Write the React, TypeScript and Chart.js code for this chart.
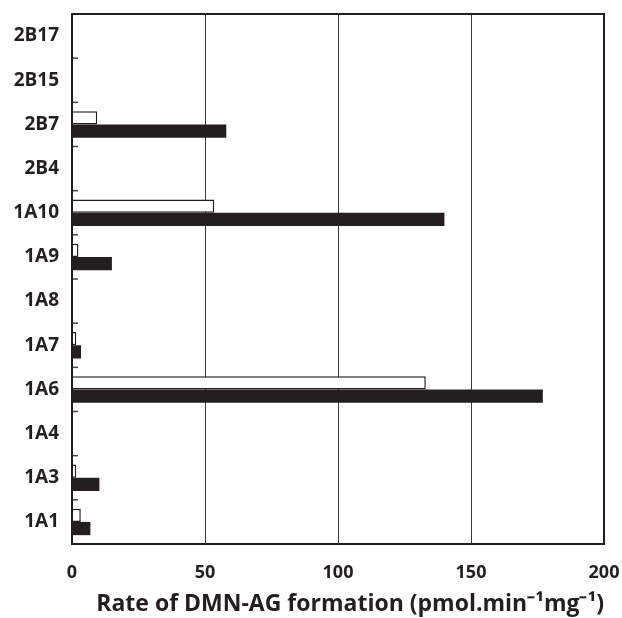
import React, { useEffect, useRef } from "react";
import { Chart, registerables } from "chart.js";

Chart.register(...registerables);

const categories = ["2B17", "2B15", "2B7", "2B4", "1A10", "1A9", "1A8", "1A7", "1A6", "1A4", "1A3", "1A1"];
const openValues = [null, null, 9.5, null, 53.5, 2.4, null, 1.6, 133, null, 1.6, 3.3];
const filledValues = [null, null, 58, null, 140, 15, null, 3.4, 177, null, 10.3, 6.9];
const xTicks = [0, 50, 100, 150, 200];
const axisTitle = "Rate of DMN-AG formation (pmol.min\u207B\u00B9mg\u207B\u00B9)";

const INK = "#231f20";
const FONT = "'Open Sans', sans-serif";

const framePlugin = {
  id: "frame",
  afterDatasetsDraw(chart: any) {
    const { ctx, chartArea } = chart;
    const y = chart.scales.y;
    ctx.save();
    ctx.strokeStyle = "#444";
    ctx.lineWidth = 1.5;
    for (let i = 1; i < categories.length; i++) {
      const py = (y.getPixelForValue(i - 1) + y.getPixelForValue(i)) / 2;
      ctx.beginPath();
      ctx.moveTo(chartArea.left, py);
      ctx.lineTo(chartArea.left + 6, py);
      ctx.stroke();
    }
    ctx.strokeStyle = INK;
    ctx.lineWidth = 2;
    ctx.strokeRect(chartArea.left, chartArea.top, chartArea.right - chartArea.left, chartArea.bottom - chartArea.top);
    ctx.restore();
  },
};

export default function App() {
  const ref = useRef<HTMLCanvasElement>(null);
  useEffect(() => {
    document.body.style.margin = "0";
    const chart = new Chart(ref.current!, {
      type: "bar",
      data: {
        labels: categories,
        datasets: [
          {
            data: openValues,
            backgroundColor: "#ffffff",
            borderColor: INK,
            borderWidth: 1.5,
            categoryPercentage: 0.6,
            barPercentage: 1.0,
          },
          {
            data: filledValues,
            backgroundColor: INK,
            borderColor: INK,
            borderWidth: 0,
            categoryPercentage: 0.6,
            barPercentage: 1.0,
          },
        ],
      } as any,
      options: {
        indexAxis: "y",
        animation: false,
        responsive: false,
        layout: { padding: { left: 0, right: 18, top: 14, bottom: 0 } },
        plugins: { legend: { display: false }, tooltip: { enabled: false } },
        scales: {
          x: {
            min: 0,
            max: 200,
            afterBuildTicks: (s: any) => {
              s.ticks = xTicks.map((v) => ({ value: v }));
            },
            afterFit: (s: any) => {
              s.height = 74;
              s.paddingLeft = 0;
              s.paddingRight = 0;
              s.paddingTop = 0;
              s.paddingBottom = 0;
            },
            grid: { color: "#3a3a3a", lineWidth: 1, drawTicks: false },
            border: { display: false },
            ticks: {
              padding: 18,
              color: INK,
              font: { family: FONT, weight: 700, size: 18 },
            },
            title: {
              display: true,
              align: "end",
              text: axisTitle,
              color: INK,
              font: { family: FONT, weight: 700, size: 23 },
              padding: { top: 2, bottom: 0 },
            },
          },
          y: {
            afterFit: (s: any) => {
              s.width = 72;
              s.paddingLeft = 0;
              s.paddingRight = 0;
              s.paddingTop = 0;
              s.paddingBottom = 0;
            },
            grid: { display: false, drawTicks: false },
            border: { display: false },
            ticks: {
              padding: 13,
              color: INK,
              font: { family: FONT, weight: 700, size: 19 },
            },
          },
        },
      } as any,
      plugins: [framePlugin],
    });
    return () => chart.destroy();
  }, []);
  return <canvas ref={ref} width={622} height={618} style={{ display: "block" }} />;
}
